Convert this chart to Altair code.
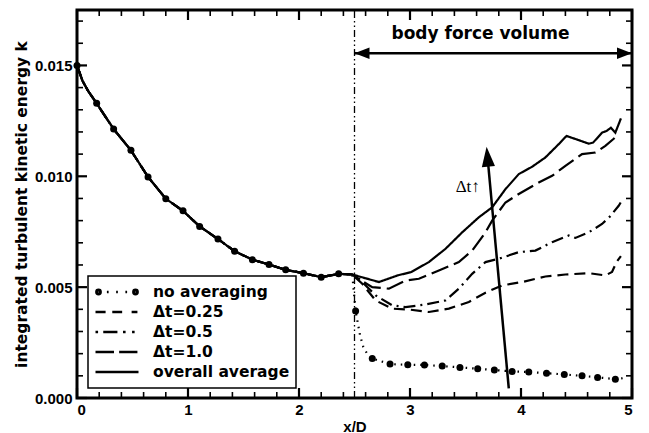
import altair as alt
import pandas as pd

# ---------------- data (k in units of 1e-3) ----------------
# part shared by all curves (x/D < 2.5)
x_common = [0.0, 0.05, 0.1, 0.177, 0.33, 0.486, 0.64, 0.80, 0.955, 1.105, 1.27, 1.42,
            1.58, 1.73, 1.88, 2.04, 2.2, 2.36, 2.48]
k_common = [15.0, 14.3, 13.85, 13.29, 12.13, 11.17, 9.97, 8.99, 8.44, 7.74, 7.17, 6.62,
            6.24, 6.02, 5.78, 5.63, 5.45, 5.6, 5.57]

# no averaging: symbol positions
x_dots = [0.0, 0.177, 0.33, 0.486, 0.64, 0.80, 0.955, 1.105, 1.27, 1.42, 1.58, 1.73,
          1.88, 2.04, 2.2, 2.357, 2.51, 2.66, 2.82, 2.98, 3.13, 3.29, 3.45, 3.61,
          3.76, 3.92, 4.07, 4.23, 4.39, 4.55, 4.69, 4.85]
k_dots = [15.0, 13.29, 12.13, 11.17, 9.97, 8.99, 8.44, 7.74, 7.17, 6.62, 6.24, 6.02,
          5.78, 5.63, 5.45, 5.6, 3.92, 1.78, 1.53, 1.50, 1.49, 1.44, 1.38, 1.32,
          1.26, 1.20, 1.17, 1.12, 1.06, 1.00, 0.93, 0.85]
# no averaging: dotted line beyond x/D = 2.5
x_noavg = [2.51, 2.55, 2.58, 2.62, 2.66, 2.82, 2.98, 3.13, 3.29, 3.45, 3.61, 3.76,
           3.92, 4.07, 4.23, 4.39, 4.55, 4.69, 4.85, 4.93]
k_noavg = [3.92, 2.83, 2.30, 1.94, 1.78, 1.53, 1.50, 1.49, 1.44, 1.38, 1.32, 1.26,
           1.20, 1.17, 1.12, 1.06, 1.00, 0.93, 0.85, 0.90]

x_dt025 = [2.57, 2.69, 2.84, 2.99, 3.17, 3.35, 3.53, 3.68, 3.83, 4.01, 4.22, 4.40,
           4.61, 4.76, 4.82, 4.86, 4.90]
k_dt025 = [5.15, 4.40, 4.03, 3.99, 3.88, 4.03, 4.33, 4.75, 5.08, 5.23, 5.48, 5.57,
           5.63, 5.53, 5.68, 6.13, 6.40]

x_dt05 = [2.54, 2.69, 2.84, 2.96, 3.14, 3.32, 3.44, 3.56, 3.68, 3.80, 3.98, 4.13,
          4.28, 4.43, 4.49, 4.61, 4.73, 4.80, 4.88, 4.92]
k_dt05 = [5.38, 4.63, 4.18, 4.10, 4.22, 4.40, 4.93, 5.60, 6.13, 6.28, 6.58, 6.65,
          7.03, 7.33, 7.22, 7.47, 7.85, 8.18, 8.67, 9.00]

x_dt10 = [2.56, 2.66, 2.81, 2.96, 3.08, 3.26, 3.44, 3.56, 3.68, 3.74, 3.86, 3.98,
          4.16, 4.28, 4.40, 4.55, 4.67, 4.76, 4.83, 4.88]
k_dt10 = [5.30, 5.00, 4.93, 5.30, 5.38, 5.75, 6.13, 6.65, 7.47, 8.00, 8.82, 9.20,
          9.72, 10.02, 10.47, 11.00, 11.07, 11.37, 11.67, 11.90]

x_overall = [2.60, 2.72, 2.89, 3.01, 3.17, 3.32, 3.47, 3.62, 3.74, 3.86, 3.98, 4.10,
             4.22, 4.34, 4.41, 4.52, 4.61, 4.65, 4.73, 4.77, 4.81, 4.85, 4.88, 4.90]
k_overall = [5.40, 5.23, 5.53, 5.68, 6.13, 6.73, 7.47, 8.15, 8.60, 9.42, 10.10, 10.43,
             10.85, 11.45, 11.82, 11.63, 11.47, 11.52, 11.97, 12.04, 12.19, 11.97, 12.35, 12.61]

series = ["no averaging", "Δt=0.25", "Δt=0.5", "Δt=1.0", "overall average"]

# axis ticks
x_major = [0, 1, 2, 3, 4, 5]
x_minor = [0.2, 0.4, 0.6, 0.8, 1.2, 1.4, 1.6, 1.8, 2.2, 2.4, 2.6, 2.8,
           3.2, 3.4, 3.6, 3.8, 4.2, 4.4, 4.6, 4.8]
y_major = [0.0, 0.005, 0.010, 0.015]
y_minor = [0.001, 0.002, 0.003, 0.004, 0.006, 0.007, 0.008, 0.009,
           0.011, 0.012, 0.013, 0.014, 0.016, 0.017]

# annotations
x_body = [2.5, 5.0]
y_body = 0.01555
x_dt_arrow = [3.89, 3.698]
y_dt_arrow = [0.00043, 0.0109]
tip_dt = (3.69, 0.01133)

# ---------------- build tables ----------------
rows = []
def add(name, xs_, ks):
    for x, k in zip(xs_, ks):
        rows.append({"series": name, "x": x, "k": k * 1e-3})

add("no averaging", x_common + x_noavg, k_common + k_noavg)
add("Δt=0.25", x_common + x_dt025, k_common + k_dt025)
add("Δt=0.5", x_common + x_dt05, k_common + k_dt05)
add("Δt=1.0", x_common + x_dt10, k_common + k_dt10)
add("overall average", x_common + x_overall, k_common + k_overall)
df = pd.DataFrame(rows)
dots = pd.DataFrame({"x": x_dots, "k": [v * 1e-3 for v in k_dots]})

W, H = 555, 388
xs = alt.Scale(domain=[0, 5], nice=False, zero=False)
ys = alt.Scale(domain=[0, 0.0175], nice=False, zero=False)

LBL = "Liberation Sans"
TXT = "DejaVu Sans"

dashes = {
    "no averaging": [1.5, 5],
    "Δt=0.25": [11, 6],
    "Δt=0.5": [12, 5, 2, 5],
    "Δt=1.0": [18, 6],
    "overall average": [1, 0],
}

x_axis = alt.Axis(orient="bottom", values=x_major, format="d",
                  ticks=False, domain=False, grid=False, labelFont=LBL, labelFontWeight="bold",
                  labelFontSize=15, labelPadding=4, labelColor="black",
                  title="x/D", titleFont=LBL, titleFontWeight="bold", titleFontSize=15,
                  titlePadding=2, titleColor="black")
y_axis = alt.Axis(orient="left", values=y_major, format=".3f",
                  ticks=False, domain=False, grid=False, labelFont=LBL, labelFontWeight="bold",
                  labelFontSize=15, labelPadding=5, labelColor="black",
                  title="integrated turbulent kinetic energy k", titleFont=TXT,
                  titleFontWeight="bold", titleFontSize=15.5, titlePadding=5, titleColor="black")

line_layers = []
for i, name in enumerate(series):
    line_layers.append(
        alt.Chart(df).transform_filter(alt.datum.series == name).mark_line(
            color="black", strokeWidth=2.2, strokeCap="butt",
            strokeDash=dashes[name]).encode(
            x=alt.X("x:Q", scale=xs, axis=x_axis if i == 0 else None),
            y=alt.Y("k:Q", scale=ys, axis=y_axis if i == 0 else None),
        )
    )

dot_layer = alt.Chart(dots).mark_point(shape="circle", filled=True, size=49, color="black",
                                       opacity=1).encode(
    x=alt.X("x:Q", scale=xs, axis=None),
    y=alt.Y("k:Q", scale=ys, axis=None),
)

# inward ticks on all four sides
def xticks(vals, p0, p1, width):
    return alt.Chart(pd.DataFrame({"v": vals})).mark_rule(color="black", strokeWidth=width).encode(
        x=alt.X("v:Q", scale=xs, axis=None), y=alt.value(p0), y2=alt.value(p1))

def yticks(vals, p0, p1, width):
    return alt.Chart(pd.DataFrame({"v": vals})).mark_rule(color="black", strokeWidth=width).encode(
        y=alt.Y("v:Q", scale=ys, axis=None), x=alt.value(p0), x2=alt.value(p1))

ticks = [
    xticks(x_major, H, H - 10, 2.2), xticks(x_major, 0, 10, 2.2),
    xticks(x_minor, H, H - 6, 1.6), xticks(x_minor, 0, 6, 1.6),
    yticks(y_major, 0, 10, 2.2), yticks(y_major, W, W - 10, 2.2),
    yticks(y_minor, 0, 6, 1.6), yticks(y_minor, W, W - 6, 1.6),
]

# vertical line at start of body force volume
vline = alt.Chart(pd.DataFrame({"x": [2.5], "y": [0.0], "y2": [0.0175]})).mark_rule(
    color="black", strokeWidth=1.3, strokeDash=[7, 3, 1.5, 3, 1.5, 3]).encode(
    x=alt.X("x:Q", scale=xs, axis=None), y=alt.Y("y:Q", scale=ys, axis=None), y2="y2:Q")

# body force volume arrow
hdf = pd.DataFrame({"x": [x_body[0]], "x2": [x_body[1]], "y": [y_body]})
harrow = alt.Chart(hdf).mark_rule(color="black", strokeWidth=2.5).encode(
    x=alt.X("x:Q", scale=xs, axis=None), x2="x2:Q", y=alt.Y("y:Q", scale=ys, axis=None))
head_left = alt.Chart(pd.DataFrame({"x": [x_body[0]], "y": [y_body]})).mark_point(
    shape="M0,0L1,-0.38L1,0.38Z", size=900, filled=True, color="black", opacity=1).encode(
    x=alt.X("x:Q", scale=xs, axis=None), y=alt.Y("y:Q", scale=ys, axis=None))
head_right = alt.Chart(pd.DataFrame({"x": [x_body[1]], "y": [y_body]})).mark_point(
    shape="M0,0L-1,-0.38L-1,0.38Z", size=900, filled=True, color="black", opacity=1).encode(
    x=alt.X("x:Q", scale=xs, axis=None), y=alt.Y("y:Q", scale=ys, axis=None))
body_text = alt.Chart(pd.DataFrame({"x": [3.635], "y": [0.01644], "t": ["body force volume"]})).mark_text(
    font=TXT, fontWeight="bold", fontSize=17, color="black").encode(
    x=alt.X("x:Q", scale=xs, axis=None), y=alt.Y("y:Q", scale=ys, axis=None), text="t:N")

# delta t arrow
ddf = pd.DataFrame({"x": [x_dt_arrow[0]], "x2": [x_dt_arrow[1]],
                    "y": [y_dt_arrow[0]], "y2": [y_dt_arrow[1]]})
darrow = alt.Chart(ddf).mark_rule(color="black", strokeWidth=2.5).encode(
    x=alt.X("x:Q", scale=xs, axis=None), x2="x2:Q",
    y=alt.Y("y:Q", scale=ys, axis=None), y2="y2:Q")
dhead = alt.Chart(pd.DataFrame({"x": [tip_dt[0]], "y": [tip_dt[1]]})).mark_point(
    shape="M0,0L-0.33,1L0.33,1Z", size=1600, filled=True, color="black", opacity=1,
    angle=354.8).encode(
    x=alt.X("x:Q", scale=xs, axis=None), y=alt.Y("y:Q", scale=ys, axis=None))
dt_text = alt.Chart(pd.DataFrame({"x": [3.52], "y": [0.00953], "t": ["Δt↑"]})).mark_text(
    font="Liberation Serif", fontSize=17, color="black").encode(
    x=alt.X("x:Q", scale=xs, axis=None), y=alt.Y("y:Q", scale=ys, axis=None), text="t:N")

# legend (symbols drawn as stroked paths)
def circ(cx, r):
    return f"M{cx - r},0A{r},{r} 0 1,0 {cx + r},0A{r},{r} 0 1,0 {cx - r},0Z"

def dot(cx):
    return circ(cx, 0.1) + circ(cx, 0.04)

def seg(a, b):
    return f"M{a},0H{b}"

legend_paths = [
    dot(-0.86) + seg(-0.47, -0.39) + seg(-0.04, 0.04) + seg(0.39, 0.47) + dot(0.86),
    "M-1,0H-0.53M-0.22,0H0.24M0.68,0H0.95",
    "M-1,0H-0.88M-0.64,0H0.02M0.28,0H0.4M0.7,0H0.82",
    "M-1,0H-0.14M0.1,0H0.95",
    "M-1,0H1",
]
legend_layer = alt.Chart(df).transform_filter("datum.k < -1").mark_point(
    filled=False, color="black", strokeWidth=2.5).encode(
    shape=alt.Shape("series:N", scale=alt.Scale(domain=series, range=legend_paths),
                    legend=alt.Legend(title=None, orient="none", legendX=11, legendY=266,
                                      symbolSize=1849, clipHeight=20, rowPadding=0,
                                      labelOffset=13, padding=6,
                                      symbolStrokeWidth=2.5,
                                      symbolStrokeColor="black", symbolOpacity=1,
                                      labelFont=TXT, labelFontWeight="bold",
                                      labelFontSize=15.5, labelColor="black",
                                      strokeColor="black", fillColor="white")),
)

chart = alt.layer(
    *line_layers, *ticks, vline, dot_layer, harrow, head_left, head_right, body_text,
    darrow, dhead, dt_text, legend_layer
).resolve_axis(x="independent", y="independent").properties(
    width=W, height=H, autosize="none",
    padding={"left": 77, "top": 10, "right": 17, "bottom": 35},
).configure_view(stroke="black", strokeWidth=3).configure_legend(strokeWidth=1.5)

chart.save("out.html", embed_options={"renderer": "svg", "actions": False})
